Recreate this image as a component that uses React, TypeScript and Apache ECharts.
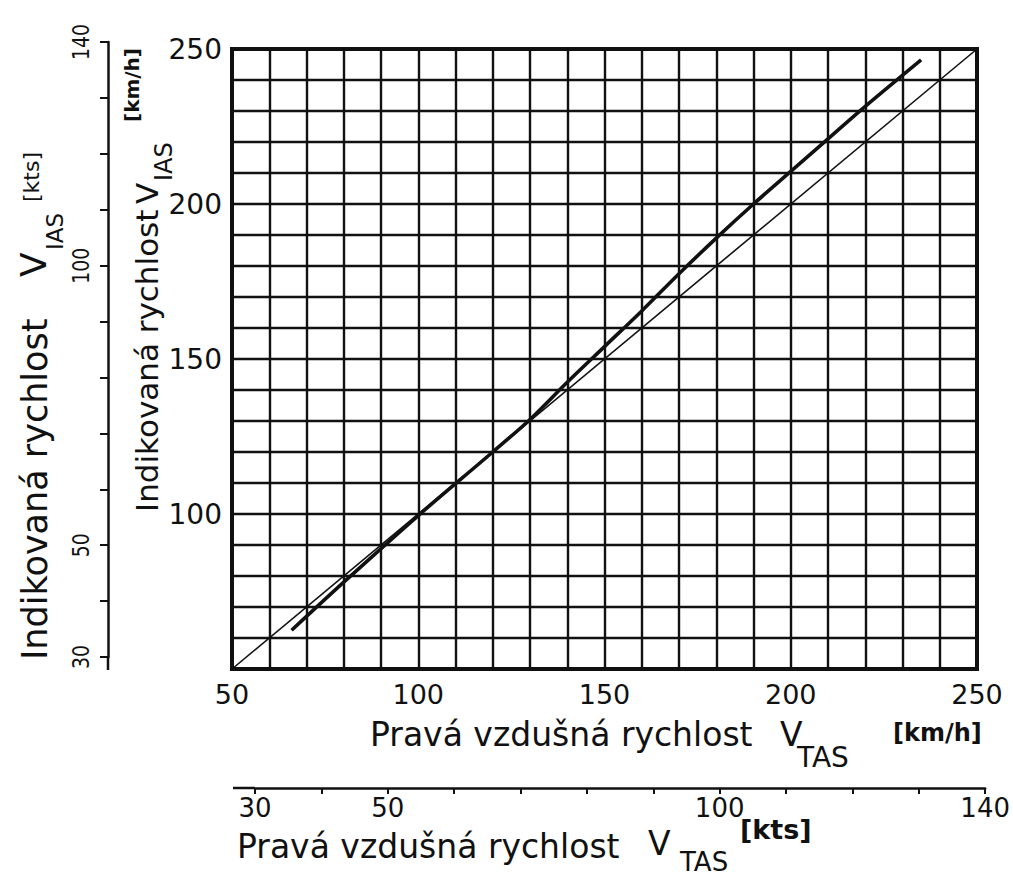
import React, { useEffect, useRef } from "react";
import * as echarts from "echarts";

// ---- data ----
const tasKmh = [66, 80, 100, 120, 130, 140, 150, 160, 170, 180, 190, 200, 210, 220, 235];
const iasKmh = [62.5, 78, 99.5, 120, 130.5, 142.5, 154, 165.5, 177.5, 189, 200, 210.5, 221, 231.5, 246.5];
const identityTas = [50, 250];
const identityIas = [50, 250];
const kmhLabelValues = [50, 100, 150, 200, 250];
const ktsLabelValues = [30, 50, 100, 140];

const FONT = "DejaVu Sans";

function mainLabel(v: number) {
  return kmhLabelValues.indexOf(v) >= 0 ? String(v) : "";
}
function ktsLabel(v: number) {
  return ktsLabelValues.indexOf(v) >= 0 ? String(v) : "";
}

export default function App() {
  const ref = useRef<HTMLDivElement>(null);
  useEffect(() => {
    if (!ref.current) return;
    const chart = echarts.init(ref.current, null, { renderer: "svg" });
    const black = "#111";
    const txt = (x: number, y: number, text: string, fs: number, extra: any = {}) => ({
      type: "text",
      x,
      y,
      rotation: extra.rotation || 0,
      scaleX: extra.scaleX || 1,
      style: {
        text,
        font: `${extra.bold ? "bold " : ""}${fs}px "${FONT}"`,
        fill: black,
        align: extra.align || "left",
        verticalAlign: "middle",
      },
    });
    const option: any = {
      animation: false,
      backgroundColor: "#fff",
      grid: [
        { left: 232, top: 49, width: 745, height: 620, show: true, borderColor: black, borderWidth: 4, backgroundColor: "transparent" },
        { left: 108, top: 42, width: 10, height: 615 },
        { left: 255, top: 700, width: 733, height: 88 },
      ],
      xAxis: [
        {
          gridIndex: 0,
          type: "value",
          min: 50,
          max: 250,
          interval: 10,
          axisLine: { show: false },
          axisTick: { show: false },
          splitLine: { show: true, lineStyle: { color: black, width: 2.4 } },
          axisLabel: {
            formatter: mainLabel,
            fontSize: 27,
            fontFamily: FONT,
            color: black,
            margin: 12,
            showMinLabel: true,
            showMaxLabel: true,
          },
        },
        { gridIndex: 1, type: "value", show: false, min: 0, max: 1 },
        {
          gridIndex: 2,
          type: "value",
          position: "bottom",
          min: 30,
          max: 140,
          interval: 10,
          axisLine: { show: true, lineStyle: { color: black, width: 2.5 } },
          axisTick: { show: true, inside: false, length: 6, lineStyle: { color: black, width: 2 } },
          splitLine: { show: false },
          axisLabel: {
            formatter: ktsLabel,
            fontSize: 26,
            fontFamily: FONT,
            color: black,
            margin: 7,
            showMinLabel: true,
            showMaxLabel: true,
          },
        },
      ],
      yAxis: [
        {
          gridIndex: 0,
          type: "value",
          min: 50,
          max: 250,
          interval: 10,
          axisLine: { show: false },
          axisTick: { show: false },
          splitLine: { show: true, lineStyle: { color: black, width: 2.4 } },
          axisLabel: {
            formatter: mainLabel,
            fontSize: 28,
            fontFamily: FONT,
            color: black,
            margin: 10,
            showMinLabel: false,
            showMaxLabel: true,
          },
        },
        {
          gridIndex: 1,
          type: "value",
          position: "left",
          min: 30,
          max: 140,
          interval: 10,
          axisLine: { show: true, lineStyle: { color: black, width: 2.5 } },
          axisTick: { show: true, inside: false, length: 8, lineStyle: { color: black, width: 2 } },
          splitLine: { show: false },
          axisLabel: { show: false },
        },
        { gridIndex: 2, type: "value", show: false, min: 0, max: 1 },
      ],
      series: [
        {
          type: "line",
          xAxisIndex: 0,
          yAxisIndex: 0,
          data: identityTas.map((t, i) => [t, identityIas[i]]),
          showSymbol: false,
          lineStyle: { color: black, width: 1.6 },
          z: 5,
        },
        {
          type: "line",
          xAxisIndex: 0,
          yAxisIndex: 0,
          data: tasKmh.map((t, i) => [t, iasKmh[i]]),
          showSymbol: false,
          smooth: 0.3,
          lineStyle: { color: black, width: 3.6 },
          z: 6,
        },
      ],
    };
    chart.setOption(option);

    // rotated kts labels on the left axis, placed through the axis scale
    const ktsLeftLabels = ktsLabelValues.map((v) => {
      const py = chart.convertToPixel({ yAxisIndex: 1 } as any, v) as number;
      return txt(81, py, ktsLabel(v), 23, { rotation: Math.PI / 2, align: "center", scaleX: 0.82 });
    });

    const graphics: any[] = [
      // axis line tails
      { type: "line", shape: { x1: 108, y1: 657, x2: 108, y2: 670 }, style: { stroke: black, lineWidth: 2.5 } },
      { type: "line", shape: { x1: 233, y1: 788, x2: 255, y2: 788 }, style: { stroke: black, lineWidth: 2.5 } },
      ...ktsLeftLabels,
      // bottom title km/h
      txt(370, 734, "Pravá vzdušná rychlost", 33),
      txt(780, 734, "V", 33),
      txt(797, 757, "TAS", 28),
      txt(893, 733, "[km/h]", 24, { bold: true }),
      // bottom title kts
      txt(237, 846, "Pravá vzdušná rychlost", 33),
      txt(648, 843, "V", 33),
      txt(680, 862, "TAS", 26),
      txt(740, 829, "[kts]", 27, { bold: true }),
      // left title kts (rotated)
      {
        type: "group",
        x: 47,
        y: 660,
        rotation: Math.PI / 2,
        children: [
          txt(0, -12, "Indikovaná rychlost", 35),
          txt(383, -14, "V", 36),
          txt(410, 8, "IAS", 23),
          txt(458, -16, "[kts]", 22),
        ],
      },
      // second left title km/h (rotated)
      {
        type: "group",
        x: 158,
        y: 512,
        rotation: Math.PI / 2,
        children: [
          txt(0, -11, "Indikovaná rychlost", 31),
          txt(308, -11, "V", 31),
          txt(331, 6, "IAS", 24),
          txt(390, -26, "[km/h]", 20, { bold: true }),
        ],
      },
    ];
    chart.setOption({ graphic: graphics });
    return () => chart.dispose();
  }, []);
  return (
    <div
      ref={ref}
      style={{ position: "fixed", left: 0, top: 0, width: 1013, height: 877, background: "#fff" }}
    />
  );
}
